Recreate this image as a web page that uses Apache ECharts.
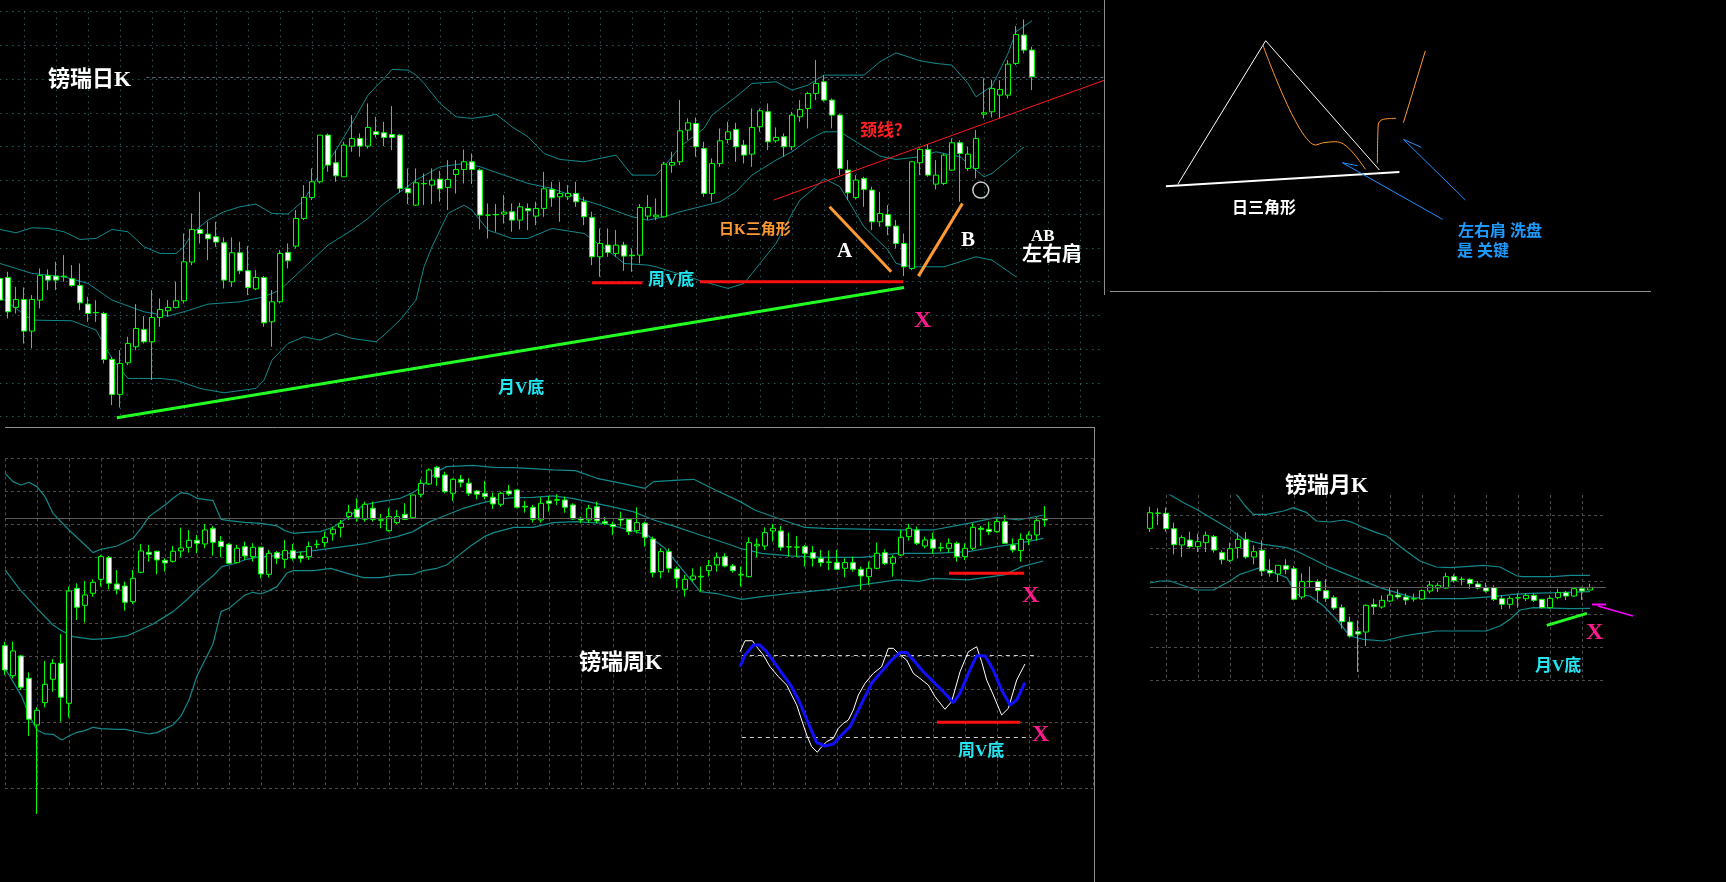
<!DOCTYPE html>
<html><head><meta charset="utf-8">
<script src="https://cdn.jsdelivr.net/npm/echarts@6/dist/echarts.min.js"></script>
<style>html,body{margin:0;padding:0;background:#000;overflow:hidden}#c{width:1726px;height:882px}</style>
</head><body><div id="c"></div>
<script>
// ---------- DAILY (镑瑞日K) : [open, close, low, high] ----------
const dailyOHLC = [
[516,451,401,541],[519,416,396,536],[429,453,411,491],[453,358,321,489],[358,453,306,466],
[451,525,426,546],[525,511,481,543],[523,511,481,566],[521,523,506,586],[515,495,491,556],
[495,443,421,561],[439,411,386,461],[414,413,386,451],[411,273,261,416],[273,168,136,281],
[168,261,129,301],[263,321,256,341],[311,366,301,439],[363,326,321,403],[326,399,211,481],
[399,423,371,456],[419,429,401,451],[429,449,426,506],[449,566,441,651],[565,663,556,711],
[663,651,621,776],[649,635,571,686],[641,625,611,686],[623,511,486,639],[506,593,491,639],
[593,539,529,626],[539,489,466,613],[485,519,481,541],[519,383,371,523],[386,446,311,481],
[446,591,441,601],[594,569,546,621],[613,696,606,721],[696,759,691,796],[759,806,751,846],
[806,946,801,946],[946,856,836,951],[863,824,806,901],[821,916,821,926],[913,936,896,1006],
[936,913,881,951],[913,969,906,1041],[956,948,939,1001],[953,939,913,986],[948,939,901,1033],
[946,786,773,949],[786,773,739,846],[736,803,734,846],[800,801,736,831],[796,811,739,846],
[814,785,746,839],[789,813,721,871],[828,843,771,871],[843,866,801,903],[866,843,799,891],
[841,706,663,846],[706,706,636,741],[707,708,656,739],[709,715,681,766],[716,691,656,741],
[691,731,663,743],[726,719,661,741],[703,726,676,746],[726,785,701,836],[783,758,731,806],
[761,771,686,806],[761,771,751,796],[771,746,731,806],[746,701,676,761],[699,581,556,716],
[581,621,521,666],[616,594,581,666],[591,616,581,661],[616,583,539,626],[586,584,536,606],
[586,729,561,739],[703,729,691,766],[701,706,691,756],[701,859,699,866],[856,864,833,896],
[866,959,856,1051],[961,983,931,996],[981,911,881,999],[906,771,761,926],[771,861,746,876],
[861,929,851,966],[933,956,921,986],[963,911,866,983],[916,886,861,931],[889,969,851,1026],
[971,1019,956,1026],[1016,926,901,1041],[929,939,923,969],[941,911,881,951],[911,1006,901,1016],
[1001,1023,986,1051],[1026,1071,966,1076],[1071,1101,1051,1171],[1106,1051,1046,1126],[1051,1006,966,1056],
[1006,846,826,1011],[841,773,751,871],[759,811,753,826],[816,783,731,821],[781,686,661,791],
[686,711,671,776],[708,673,646,736],[673,621,606,691],[621,551,523,651],[546,866,541,866],
[863,903,826,906],[903,826,821,919],[799,826,783,871],[801,886,796,891],[841,923,839,936],
[923,891,746,931],[846,889,839,911],[846,936,816,961],[1009,1013,996,1116],[1016,1086,999,1111],
[1066,1083,996,1111],[1066,1159,1056,1171],[1161,1248,1156,1273],[1246,1201,1191,1293],[1201,1121,1081,1211]
];
const dailyUpper = [[0,663],[2,653],[4,668],[6,666],[8,656],[10,633],[12,636],[14,663],[16,656],[18,611],[20,591],[22,591],[23,611],[24,651],[26,691],[28,716],[30,731],[32,739],[34,711],[36,709],[38,751],[40,831],[42,901],[44,981],[46,1066],[48,1116],[49,1143],[51,1141],[52,1126],[53,1101],[55,1041],[57,1001],[59,996],[61,1003],[62,1009],[64,971],[66,941],[68,891],[70,873],[73,866],[75,876],[77,886],[79,826],[82,826],[83,851],[85,911],[88,966],[89,1006],[92,1061],[94,1101],[97,1106],[99,1081],[101,1096],[103,1126],[108,1126],[110,1166],[112,1193],[115,1169],[117,1161],[119,1156],[121,1101],[122,1061],[124,1093],[126,1191],[127,1256],[129,1289]];
const dailyMid = [[0,561],[4,531],[8,521],[11,501],[14,451],[18,416],[21,403],[23,416],[26,439],[30,446],[33,461],[35,481],[37,526],[39,571],[41,616],[44,661],[46,696],[48,741],[50,776],[52,811],[55,851],[58,861],[60,851],[63,826],[66,801],[69,786],[73,751],[75,736],[79,701],[81,691],[83,701],[85,716],[90,746],[92,776],[94,826],[97,871],[99,896],[101,931],[103,956],[105,956],[106,941],[108,911],[110,883],[112,873],[115,881],[117,896],[120,881],[122,841],[123,821],[124,831],[126,871],[128,911]];
const dailyLower = [[0,461],[4,391],[9,389],[12,361],[14,276],[16,216],[20,216],[22,211],[25,186],[28,173],[32,186],[33,211],[34,271],[36,321],[38,341],[40,331],[42,351],[44,336],[47,326],[48,346],[50,391],[52,451],[53,551],[54,611],[55,661],[56,711],[58,736],[59,721],[61,661],[64,636],[66,636],[68,656],[69,666],[73,651],[75,616],[77,581],[78,561],[81,556],[82,551],[88,506],[91,486],[93,501],[95,561],[97,621],[99,711],[100,751],[102,791],[103,816],[105,791],[108,671],[111,601],[112,561],[114,551],[118,551],[122,581],[124,571],[127,521]];
const dailyPriceLine = 1119;
const dailyMonthV = [[14.6,98],[113,489]];
const dailyWeekV1 = [[74,503],[80.3,503]];
const dailyWeekV2 = [[87.5,506],[112.9,506]];
const dailyNeck = [[96.7,751],[138.3,1113]];
const dailyLegA = [[103.7,731],[111.4,536]];
const dailyLegB = [[114.8,523],[120.3,741]];
const dailyCircle = [[122.6,781]];

// ---------- WEEKLY (镑瑞周K) ----------
const weeklyOHLC = [
[725,652,637,737],[635,709,627,737],[694,600,592,697],[627,504,454,645],[487,531,220,540],
[554,609,540,679],[624,672,587,685],[672,570,497,760],[552,889,509,902],[897,840,802,912],
[846,877,794,919],[882,915,872,924],[924,992,902,997],[989,912,894,994],[910,894,879,952],
[904,855,830,917],[857,927,850,952],[945,1009,942,1030],[1005,999,977,1027],[1008,982,939,1010],
[981,973,947,987],[978,1008,974,1024],[1009,1018,990,1079],[1020,1041,1004,1072],[1041,1032,1002,1057],
[1030,1072,1017,1090],[1077,1035,995,1084],[1038,1022,990,1054],[1029,972,970,1032],[974,1017,972,1027],
[1022,994,982,1037],[992,1020,977,1032],[1020,940,927,1022],[939,1002,930,1012],[1004,987,970,1009],
[984,1010,957,1042],[1010,987,980,1030],[994,987,974,1007],[992,1022,982,1037],[1028,1029,1017,1042],
[1034,1050,1020,1067],[1060,1074,1040,1082],[1080,1092,1050,1102],[1112,1125,1102,1147],[1134,1110,1097,1167],
[1104,1149,1097,1157],[1137,1104,1097,1157],[1101,1103,1077,1120],[1070,1112,1067,1137],[1094,1112,1090,1132],
[1119,1104,1102,1152],[1109,1177,1107,1177],[1179,1212,1170,1224],[1210,1252,1207,1257],[1260,1230,1204,1264],
[1237,1187,1182,1247],[1182,1224,1159,1227],[1224,1215,1200,1237],[1212,1182,1174,1227],[1189,1179,1164,1192],
[1182,1172,1164,1219],[1170,1150,1135,1184],[1149,1182,1142,1187],[1189,1180,1174,1207],[1192,1140,1137,1194],
[1143,1141,1124,1159],[1140,1104,1094,1147],[1102,1152,1094,1170],[1159,1152,1127,1174],[1161,1163,1147,1179],
[1162,1140,1124,1172],[1147,1105,1102,1152],[1107,1102,1092,1112],[1102,1137,1094,1147],[1142,1099,1092,1157],
[1097,1092,1087,1110],[1089,1082,1057,1097],[1107,1102,1082,1127],[1104,1067,1057,1107],[1070,1094,1062,1140],
[1092,1050,1022,1097],[1045,944,930,1052],[947,1007,927,1017],[1007,957,944,1017],[955,927,897,962],
[894,924,872,937],[924,934,917,957],[931,933,887,962],[950,965,932,982],[967,990,947,1004],
[992,964,960,1002],[964,950,944,970],[937,938,902,962],[932,1034,930,1050],[1024,1029,990,1047],
[1024,1064,1012,1080],[1069,1077,1037,1090],[1069,1020,1010,1084],[1021,1022,992,1064],[1020,1021,990,1054],
[1022,1002,962,1027],[1004,987,962,1024],[987,974,962,1012],[976,975,952,1010],[974,954,952,1012],
[957,974,930,987],[974,954,947,992],[954,934,892,962],[932,957,907,977],[957,1002,954,1034],
[1004,972,967,1014],[972,990,932,997],[997,1050,994,1072],[1052,1077,1040,1090],[1072,1032,1027,1082],
[1024,1042,1017,1052],[1044,1017,1000,1064],[1018,1019,1007,1034],[1017,1032,1004,1047],[1032,992,977,1037],
[992,1017,982,1032],[1017,1080,1012,1092],[1077,1074,1024,1084],[1074,1067,1057,1097],[1067,1097,1064,1107],
[1097,1032,1030,1117],[1027,1012,1004,1047],[1010,1044,977,1062],[1044,1057,1027,1067],[1057,1100,1040,1110],
[1107,1102,1082,1144]
];
const weeklyUpper = [[0,1242],[1,1217],[2,1207],[3,1215],[4,1202],[5,1172],[6,1122],[8,1072],[10,1027],[11,1004],[12,1014],[14,1024],[16,1047],[17,1077],[18,1112],[20,1147],[21,1167],[22,1184],[23,1180],[24,1167],[26,1160],[27,1104],[28,1100],[30,1095],[32,1092],[34,1084],[35,1070],[36,1062],[37.5,1065],[39.4,1067],[41,1080],[42.7,1107],[44.8,1147],[46.9,1157],[49.4,1167],[51,1184],[52.3,1207],[54,1247],[55.2,1262],[58.5,1266],[61,1260],[63.5,1259],[66,1256],[68.5,1252],[71.3,1250],[74,1227],[77.1,1212],[80,1197],[81.1,1217],[84.7,1222],[86.1,1224],[88.8,1192],[91.9,1157],[93.7,1132],[97.2,1102],[99.9,1080],[102.6,1077],[111.5,1072],[116,1072],[120.4,1092],[124,1110],[126.7,1102],[129.8,1117]];
const weeklyMid = [[0,952],[1.9,892],[4,837],[6,787],[7.3,767],[8.5,752],[11,744],[13.1,747],[15.2,754],[16.9,772],[18.5,790],[21,827],[22.7,862],[24.4,902],[26.1,937],[27.1,962],[28.5,970],[30.2,984],[31.9,992],[33.5,994],[35.2,1002],[38.6,1010],[40.7,1017],[44.8,1030],[46.9,1042],[49,1052],[51,1067],[53.1,1097],[55.2,1117],[57.3,1137],[59.4,1152],[61.5,1164],[63.6,1169],[66,1170],[68.5,1174],[70.9,1167],[75.8,1142],[78.5,1127],[81.1,1102],[83.8,1082],[86.9,1057],[90.1,1032],[91.9,1017],[94.6,1002],[98.1,994],[102.6,990],[107.1,990],[111.5,1002],[116,1002],[120.4,1007],[124,1022],[126.7,1032],[129.8,1047]];
const weeklyLower = [[0,657],[1,617],[2.1,572],[3.1,512],[4,472],[5,460],[6,459],[7.1,442],[8,454],[9,465],[10,470],[11,480],[12,476],[14,474],[15,474],[16,469],[18,460],[19,464],[20,476],[21,487],[22,514],[23,562],[24,634],[25,682],[26,730],[27,827],[28,837],[29,857],[30,877],[31,885],[32,880],[33,890],[34,902],[35.2,942],[36,950],[38.6,950],[40.7,957],[42.8,942],[44.8,929],[46.9,929],[49,937],[51,939],[52.3,950],[54,957],[55.2,967],[56.5,992],[58.2,1024],[59.9,1052],[61.1,1064],[63.6,1080],[66,1080],[68.5,1094],[71.3,1097],[74.9,1092],[78,1072],[80.3,1057],[82.5,1017],[84.7,952],[86.9,887],[89.2,880],[92.1,864],[94.6,872],[98.1,882],[102.6,892],[107.1,907],[111.5,922],[114.2,918],[116,927],[120.4,922],[124.9,937],[127.1,962],[129.8,979]];
const weeklyPriceLine = 1106;
const weeklyWeekV = [[118,942],[127.4,942]];

// ---------- WEEKLY OSCILLATOR ----------
const oscK = [[91.88,82.9],[92.5,91.0],[93.42,91.0],[93.96,86.6],[94.79,80.5],[95.63,71.9],[96.67,64.6],[97.71,58.4],[98.33,51.1],[98.96,43.8],[99.58,32.7],[100.21,21.7],[100.83,13.1],[101.54,9.0],[102.08,13.1],[102.71,16.8],[103.54,19.3],[104.17,26.6],[104.79,30.3],[105.42,32.7],[106.04,40.1],[106.67,51.1],[107.5,59.7],[108.54,67.0],[109.58,71.9],[110.42,85.4],[111.04,85.4],[111.67,81.7],[112.71,76.8],[113.54,67.0],[114.38,63.3],[115.42,58.4],[116.25,49.9],[117.5,40.6],[118.33,46.2],[119.38,68.2],[120.42,82.9],[121.46,86.6],[122.08,75.6],[122.71,62.1],[123.54,51.1],[124.58,36.4],[125.42,41.3],[126.46,62.1],[127.5,73.9]];
const oscD = [[91.88,71.9],[92.5,80.5],[93.54,87.8],[94.38,87.8],[95.21,82.9],[96.25,74.4],[97.29,65.8],[98.33,57.2],[99.38,45.0],[100.42,30.3],[101.46,16.1],[102.5,13.6],[103.54,15.1],[104.58,21.7],[105.63,27.8],[106.88,42.5],[108.33,59.7],[109.38,67.0],[110.63,75.6],[111.88,82.4],[112.71,82.4],[113.54,76.8],[114.79,68.2],[116.04,60.9],[117.29,53.5],[118.54,45.5],[119.38,52.3],[120.42,67.0],[121.46,80.0],[122.5,80.0],[123.54,69.5],[124.58,54.8],[125.63,43.8],[126.46,47.4],[127.5,60.2]];
const oscLevels = [80, 20];
const oscGridX = [93.5, 97.5, 101.5, 105.5, 109.5, 113.5, 117.5, 121.5, 125.5, 129.5];
const oscWeekV = [[116.5,31],[126.9,31]];

// ---------- MONTHLY (镑瑞月K) ----------
const monthlyOHLC = [
[554,601,543,619],[599,600,564,614],[599,553,544,616],[553,505,476,571],[504,526,468,533],
[519,499,493,544],[499,514,483,538],[511,533,483,544],[529,489,481,534],[481,460,446,488],
[458,493,453,511],[496,521,464,541],[521,468,463,543],[468,484,446,503],[488,426,411,518],
[428,420,409,461],[417,443,393,443],[442,431,416,461],[433,341,338,441],[348,394,341,419],
[394,395,378,439],[394,367,331,401],[367,344,333,401],[346,315,309,353],[316,274,253,326],
[273,231,226,289],[244,237,123,278],[243,323,201,326],[325,319,297,343],[318,338,313,353],
[336,354,333,376],[354,348,341,371],[348,339,324,359],[342,343,334,358],[342,367,339,371],
[366,384,359,396],[375,383,363,391],[375,409,373,421],[409,397,391,416],[401,401,383,409],
[401,388,373,404],[387,375,371,396],[376,366,361,391],[376,341,336,383],[343,326,311,353],
[326,344,313,351],[345,346,316,359],[343,353,336,359],[353,338,333,359],[341,316,313,343],
[316,344,313,353],[346,361,341,373],[361,351,339,366],[351,373,348,376],[373,366,339,379],
[369,376,369,388]
];
const monthlyUpper = [[10.2,700],[10.8,656],[11.9,621],[12.9,596],[14.6,596],[16.7,606],[17.9,616],[19.6,601],[20.8,576],[22.5,573],[24.2,579],[25.4,571],[26.7,556],[28.3,541],[29.6,531],[31.7,491],[33.75,456],[35.8,438],[37.5,436],[41.7,443],[43.75,438],[45.9,411],[46.6,409],[50.4,409],[52.6,413],[55,413]];
const monthlyMid = [[1.6,700],[2.4,656],[4.2,631],[5.8,611],[7.9,581],[10,551],[11.7,521],[14.2,506],[17.1,496],[18.3,486],[20.4,461],[22.5,436],[24.6,416],[26.7,396],[28.75,376],[30.8,361],[32.9,346],[35,343],[39.2,343],[42.9,349],[45.4,356],[47.5,359],[50.8,361],[55,364]];
const monthlyLower = [[0,390],[1.25,396],[2.5,396],[5.8,369],[7.9,369],[10,396],[11.25,416],[12.5,426],[13.75,436],[15,426],[17.1,406],[18.3,356],[20,351],[21.7,321],[23.3,281],[25,231],[26.7,221],[29.2,216],[31.7,231],[33.75,239],[35.8,246],[42,246],[43.75,261],[45,281],[46.25,309],[47.9,316],[52.5,313],[55,314]];
const monthlyPriceLine = 376;
const monthlyMonthV = [[49.6,263],[54.6,299]];

// ---------- SKETCH (日三角形) ----------
const sketchBase = [[60.9,106.7],[294.4,121]];
const sketchTriangle = [[72.8,108.7],[160.7,252.3],[274.4,123]];
const sketchPath1 = [[157.9,248],[210.6,148],[218.5,150.3],[230.5,151.3],[238.5,149],[248.5,139.7],[260.5,123.7]];
const sketchPath2 = [[272.4,129.7],[273.2,168],[278.4,173.7],[291.2,174.7]];
const sketchPath3 = [[298.4,170.3],[320.3,242]];
const sketchArrow1 = [[252.5,127.3],[237.3,130.3],[337.5,73.7]];
const sketchArrow2 = [[316.4,145.7],[298.4,153.7],[360.3,93]];

// ---------- build ----------
const cats = (n, p) => Array.from({length:n}, (_, i) => p + i);
const BAND = '#12898b', GREEN = '#00ff00', CYAN = '#22e6f2', PINK = '#ff1a8c', ORANGE = '#ff9a33';
const dash = {color: '#4a4a4a', type: [3, 3], width: 1};
const dots = {color: '#2d5858', type: [1.5, 4.5], width: 1};
const candleStyle = {color: '#000000', color0: '#ffffff', borderColor: GREEN, borderColor0: GREEN, borderColorDoji: GREEN, borderWidth: 1};

function catAxis(grid, n, p, rem, style) {
  return {gridIndex: grid, type: 'category', data: cats(n, p), boundaryGap: false,
    axisLine: {show: false}, axisTick: {show: false}, axisLabel: {show: false},
    splitLine: {show: true, interval: (i) => i % 4 === rem, lineStyle: style}};
}
function valX(grid, min, max) { return {gridIndex: grid, type: 'value', min, max, show: false}; }
function valY(grid, min, max, interval, style, extra) {
  return Object.assign({gridIndex: grid, type: 'value', min, max, interval, scale: false,
    axisLine: {show: false}, axisTick: {show: false}, axisLabel: {show: false},
    splitLine: Object.assign({show: true, lineStyle: style}, extra || {})});
}
function line(xi, yi, data, color, width, extra) {
  return Object.assign({type: 'line', xAxisIndex: xi, yAxisIndex: yi, data, symbol: 'none', showSymbol: false,
    silent: true, animation: false, lineStyle: {color, width}, z: 3}, extra || {});
}
function hline(x1, x2, y, color, type) {
  return {silent: true, symbol: 'none', label: {show: false}, lineStyle: {color, width: 1, type},
    data: [[{coord: [x1, y]}, {coord: [x2, y]}]]};
}

const oscMarks = oscLevels.map((v, k) => [{coord: [92.1, v]}, {coord: [k === 0 ? 129.1 : 128.3, v]}]);
const oscVMarks = oscGridX.map(x => [{coord: [x, -11], lineStyle: {color: '#3c3c3c', type: [3, 3]}}, {coord: [x, 106]}]);

const series = [
  // daily
  line(1, 0, dailyUpper, BAND, 1, {markLine: hline(18.3, 138, dailyPriceLine, '#5c6577', [3, 3])}),
  line(1, 0, dailyMid, BAND, 1),
  line(1, 0, dailyLower, BAND, 1),
  {type: 'candlestick', xAxisIndex: 0, yAxisIndex: 0, data: dailyOHLC, barWidth: 5, itemStyle: candleStyle, animation: false, z: 4},
  line(1, 0, dailyMonthV, '#22ff22', 3, {clip: false, z: 5}),
  line(1, 0, dailyWeekV1, '#ff1010', 3, {z: 5}),
  line(1, 0, dailyWeekV2, '#ff1010', 3, {z: 5}),
  line(1, 0, dailyNeck, '#ff1a1a', 1, {clip: false, z: 5}),
  line(1, 0, dailyLegA, ORANGE, 3, {z: 5}),
  line(1, 0, dailyLegB, ORANGE, 3, {z: 5}),
  {type: 'scatter', xAxisIndex: 1, yAxisIndex: 0, data: dailyCircle, symbol: 'circle', symbolSize: 16, silent: true, animation: false,
    itemStyle: {color: 'rgba(0,0,0,0)', borderColor: '#ffffff', borderWidth: 1.5}, z: 6},
  // weekly
  line(3, 1, weeklyUpper, BAND, 1.2, {markLine: hline(0, 136, weeklyPriceLine, '#5a5a5a', 'solid')}),
  line(3, 1, weeklyMid, BAND, 1.2),
  line(3, 1, weeklyLower, BAND, 1.2),
  {type: 'candlestick', xAxisIndex: 2, yAxisIndex: 1, data: weeklyOHLC, barWidth: 5, itemStyle: candleStyle, clip: false, animation: false, z: 4},
  line(3, 1, weeklyWeekV, '#ff1010', 3, {z: 5}),
  // oscillator
  line(4, 2, [], '#3c3c3c', 1, {clip: false, z: 2, markLine: {silent: true, symbol: 'none', label: {show: false},
    lineStyle: {color: '#3c3c3c', width: 1, type: [3, 3]}, data: oscVMarks}}),
  line(4, 2, oscK, '#ffffff', 1, {z: 5, markLine: {silent: true, symbol: 'none', label: {show: false},
    lineStyle: {color: '#d0d0d0', width: 1, type: [4, 4]}, data: oscMarks}}),
  line(4, 2, oscD, '#1010ff', 3, {z: 6}),
  line(4, 2, oscWeekV, '#ff1010', 3, {z: 6}),
  // monthly
  line(6, 3, monthlyUpper, BAND, 1.2, {markLine: hline(0, 57, monthlyPriceLine, '#5a5a5a', 'solid')}),
  line(6, 3, monthlyMid, BAND, 1.2),
  line(6, 3, monthlyLower, BAND, 1.2),
  {type: 'candlestick', xAxisIndex: 5, yAxisIndex: 3, data: monthlyOHLC, barWidth: 5, itemStyle: candleStyle, clip: false, animation: false, z: 4},
  line(6, 3, monthlyMonthV, '#22ff22', 3, {z: 5}),
  // sketch
  line(7, 4, sketchBase, '#ffffff', 2),
  line(7, 4, sketchTriangle, '#ffffff', 1),
  line(7, 4, sketchPath1, '#ff9933', 1, {smooth: 0.3}),
  line(7, 4, sketchPath2, '#ff9933', 1, {smooth: 0.4}),
  line(7, 4, sketchPath3, '#ff9933', 1),
  line(7, 4, sketchArrow1, '#1e90ff', 1),
  line(7, 4, sketchArrow2, '#1e90ff', 1)
];

const FONT = '"Liberation Serif","Noto Sans CJK SC",serif';
function T(text, x, y, color, size) {
  return {type: 'text', x, y, z: 100, silent: true,
    style: {text, fill: color, font: 'bold ' + size + 'px ' + FONT, textVerticalAlign: 'middle', verticalAlign: 'middle'}};
}
function Ln(x1, y1, x2, y2, color, w) {
  return {type: 'line', silent: true, z: 90, shape: {x1, y1, x2, y2}, style: {stroke: color || '#8c8c8c', lineWidth: w || 1}};
}
const graphics = [
  Ln(1104.5, 0, 1104.5, 295), Ln(1110, 291.5, 1651, 291.5), Ln(5, 427.5, 1095, 427.5), Ln(1094.5, 427, 1094.5, 882),
  Ln(1592, 604.5, 1606, 604.5, '#ff00ff', 2), Ln(1598, 606, 1633, 616, '#ff00ff', 1.5),
  T('镑瑞日K', 48, 80, '#ffffff', 22),
  T('颈线？', 860, 132, '#ff2020', 17),
  T('日K三角形', 719, 230, ORANGE, 15),
  T('周V底', 648, 281, CYAN, 17),
  T('月V底', 498, 389, CYAN, 17),
  T('A', 837, 252, '#ffffff', 21),
  T('B', 961, 241, '#ffffff', 21),
  T('AB', 1031, 237, '#ffffff', 17),
  T('左右肩', 1022, 256, '#ffffff', 20),
  T('X', 914, 321, PINK, 24),
  T('镑瑞周K', 579, 663, '#ffffff', 22),
  T('X', 1022, 596, PINK, 24),
  T('X', 1032, 735, PINK, 24),
  T('周V底', 958, 752, CYAN, 17),
  T('镑瑞月K', 1285, 486, '#ffffff', 22),
  T('X', 1586, 633, PINK, 24),
  T('月V底', 1535, 667, CYAN, 17),
  T('日三角形', 1232, 209, '#ffffff', 16),
  T('左右肩 洗盘', 1458, 232, '#1e9bff', 16),
  T('是 关键', 1457, 252, '#1e9bff', 16)
];

const chart = echarts.init(document.getElementById('c'), null, {renderer: 'canvas'});
chart.setOption({
  backgroundColor: '#000000',
  animation: false,
  grid: [
    {left: 0, top: 11.7, width: 1104, height: 405},
    {left: 5, top: 458.3, width: 1088, height: 330},
    {left: 5, top: 628.5, width: 1088, height: 136},
    {left: 1150, top: 495, width: 456, height: 185},
    {left: 1105, top: 0, width: 546, height: 293}
  ],
  xAxis: [
    catAxis(0, 139, 'd', 3, dots), valX(0, 0, 138),
    catAxis(1, 137, 'w', 0, dash), valX(1, 0, 136),
    valX(2, 0, 136),
    catAxis(3, 58, 'm', 2, dash), valX(3, 0, 57),
    valX(4, 0, 546)
  ],
  yAxis: [
    valY(0, 101.25, 1316.25, 101.25, dots),
    valY(1, 297, 1287, 99, dash),
    {gridIndex: 2, type: 'value', min: 0, max: 100, show: false},
    valY(3, 99, 654, 99, dash, {showMaxLine: false}),
    {gridIndex: 4, type: 'value', min: 0, max: 293, show: false}
  ],
  series,
  graphic: graphics
});
</script></body></html>
